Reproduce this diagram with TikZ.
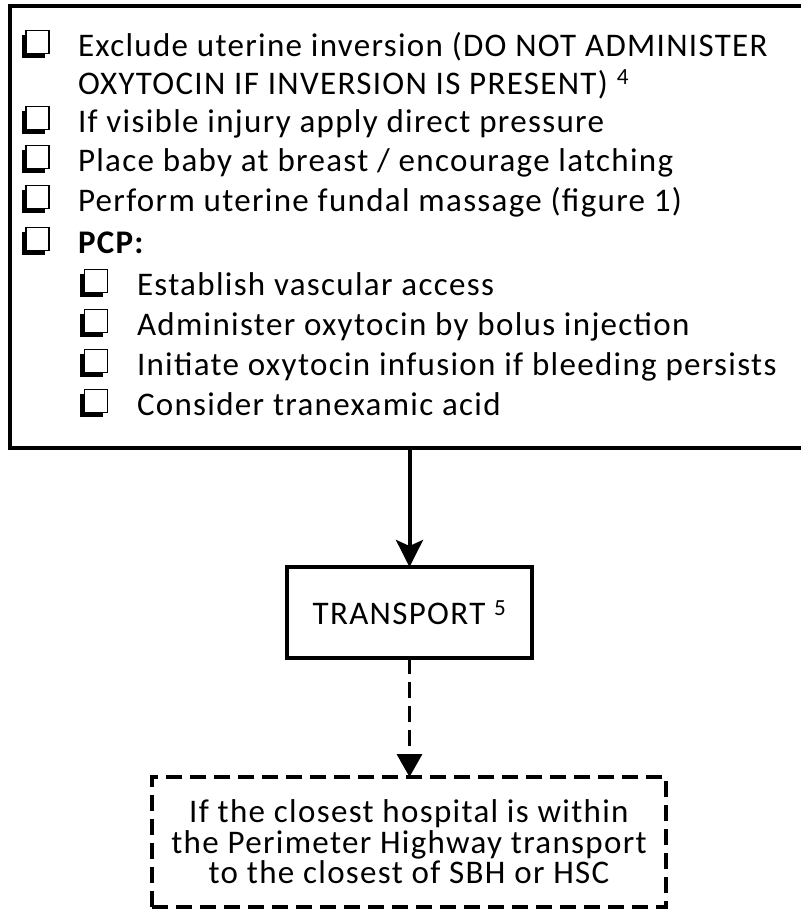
\documentclass[tikz,border=0pt]{standalone}
\usepackage{fontspec}
\setmainfont{Carlito}[LetterSpace=4]
\usetikzlibrary{arrows.meta,shadows}
\begin{document}
\begin{tikzpicture}[x=1pt,y=-1pt,
  txt/.style={anchor=base west, inner sep=0pt, outer sep=0pt, font=\fontsize{33}{38}\selectfont},
  cbox/.style={draw, line width=1.6pt, fill=white, minimum size=23pt, inner sep=0pt, outer sep=0pt,
    drop shadow={shadow xshift=-4.5pt, shadow yshift=-4.5pt, fill=black, opacity=1}},
  bigbox/.style={draw, line width=4pt, inner sep=0pt, outer sep=0pt},
  transbox/.style={draw, line width=3.5pt, inner sep=0pt, outer sep=0pt, font=\fontsize{33}{38}\selectfont},
  dashbox/.style={draw, line width=3.5pt, dash pattern=on 16pt off 8pt, align=center, inner sep=0pt, outer sep=0pt, font=\fontsize{33}{30.5}\selectfont},
  solidarrow/.style={line width=4pt, -{Stealth[length=27pt,width=27pt,inset=6pt]}},
  dasharrow/.style={line width=3.5pt, dash pattern=on 16pt off 8pt, -{Triangle[length=23pt,width=25pt]}}
]
\useasboundingbox (0,0) rectangle (801,911);

% top box
\node[bigbox, minimum width=810pt, minimum height=442pt, anchor=north west] (top) at (10,6) {};

% level 1 rows
\node[cbox] (c1) at (37.5,42) {};
\node[txt] (r1) at (78,56) {Exclude uterine inversion (DO NOT ADMINISTER};
\node[txt] (r2) at (78,94) {OXYTOCIN IF INVERSION IS PRESENT)~\textsuperscript{4}};
\node[cbox] (c3) at (37.5,118) {};
\node[txt] (r3) at (78,132) {If visible injury apply direct pressure};
\node[cbox] (c4) at (37.5,157) {};
\node[txt] (r4) at (78,171) {Place baby at breast / encourage latching};
\node[cbox] (c5) at (37.5,197) {};
\node[txt] (r5) at (78,211) {Perform uterine fundal massage (figure 1)};
\node[cbox] (c6) at (37.5,239) {};
\node[txt] (r6) at (78,253) {\textbf{PCP:}};

% level 2 rows
\node[cbox] (c7) at (96,281) {};
\node[txt] (r7) at (137,295) {Establish vascular access};
\node[cbox] (c8) at (96,321) {};
\node[txt] (r8) at (137,335) {Administer oxytocin by bolus injection};
\node[cbox] (c9) at (96,361) {};
\node[txt] (r9) at (137,375) {Initiate oxytocin infusion if bleeding persists};
\node[cbox] (c10) at (96,401) {};
\node[txt] (r10) at (137,415) {Consider tranexamic acid};

% transport
\node[transbox, minimum width=245pt, minimum height=91pt] (trans) at (409.5,612.5) {TRANSPORT~\textsuperscript{5}};

% bottom dashed box
\node[dashbox, minimum width=514pt, minimum height=130pt] (bot) at (409,842)
  {If the closest hospital is within\\the Perimeter Highway transport\\to the closest of SBH or HSC};

% connectors
\draw[solidarrow] (trans.north |- top.south) -- (trans.north);
\draw[dasharrow] (trans.south) -- (trans.south |- bot.north);
\end{tikzpicture}
\end{document}
